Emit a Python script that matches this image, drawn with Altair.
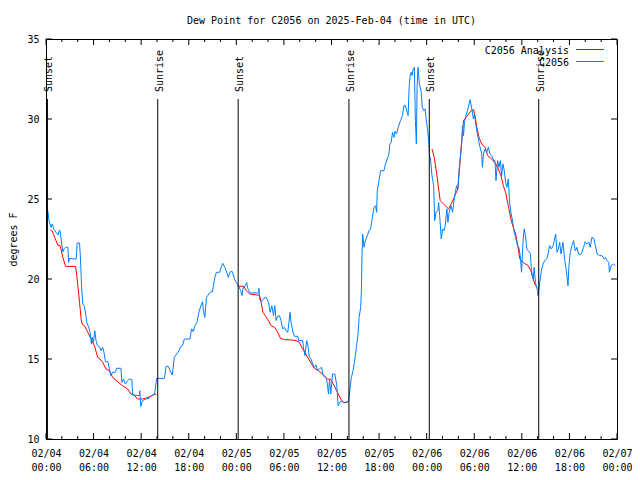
import altair as alt
import pandas as pd

MONO = "DejaVu Sans Mono"
RED = "#FF0000"
BLUE = "#0080FF"

# hours since 2025-02-04 00:00 UTC, observed dew point (F) for C2056
obs_hours = [0.13, 0.25, 0.38, 0.63, 0.79, 1.00, 1.29, 1.51, 1.72, 1.84, 2.01, 2.13, 2.30, 2.47, 2.76, 2.85, 2.97,
             3.60, 3.80, 3.93, 4.23, 4.35, 4.48, 4.64, 4.80, 4.98, 5.14, 5.39, 5.56, 5.73, 5.81, 5.98, 6.15, 6.31,
             6.49, 6.81, 6.94, 7.15, 7.31, 7.49, 7.81, 7.99, 8.19, 8.40, 8.74, 8.91, 9.45, 9.57, 9.78, 10.00, 10.29,
             10.50, 10.83, 10.91, 11.75, 11.83, 11.95, 12.17, 12.58, 13.01, 13.33, 13.67, 13.84, 13.96, 14.93, 15.14,
             15.43, 15.64, 15.93, 16.18, 16.47, 16.77, 16.97, 17.22, 17.44, 18.15, 18.35, 18.57, 18.78, 19.03, 19.28,
             19.53, 19.73, 19.86, 20.03, 20.23, 20.53, 20.79, 20.99, 21.11, 21.29, 21.49, 21.91, 22.12, 22.29, 22.54,
             22.79, 22.99, 23.24, 23.50, 23.80, 24.00, 24.30, 24.55, 24.71, 24.87, 25.13, 25.30, 25.46, 25.72, 26.81,
             26.85, 26.93, 27.13, 27.47, 27.76, 28.06, 28.26, 28.48, 28.69, 28.85, 29.01, 29.23, 29.44, 29.64, 29.85,
             30.07, 30.27, 30.48, 30.61, 30.77, 30.90, 31.15, 31.32, 31.74, 31.86, 32.36, 32.49, 32.65, 32.87, 33.03,
             33.21, 33.41, 33.62, 33.83, 34.03, 34.25, 34.46, 34.75, 34.96, 35.16, 35.37, 35.50, 35.62, 35.75, 35.91,
             36.13, 36.42, 36.67, 36.84, 37.09, 37.38, 37.59, 37.92, 38.10, 38.22, 38.35, 38.51, 38.72, 38.92, 39.14,
             39.35, 39.48, 39.68, 39.77, 39.85, 39.93, 40.10, 40.27, 40.52, 40.73, 40.93, 41.15, 41.36, 41.56, 41.69,
             41.77, 41.99, 42.19, 42.61, 42.81, 43.03, 43.24, 43.36, 43.53, 43.69, 43.87, 43.99, 44.19, 44.41, 44.70,
             44.95, 45.12, 45.32, 45.54, 45.66, 45.79, 45.91, 46.04, 46.16, 46.29, 46.45, 46.58, 46.70, 46.79, 46.91,
             47.08, 47.29, 47.45, 47.63, 47.79, 47.96, 48.13, 48.26, 48.38, 48.46, 48.67, 48.88, 49.01, 49.17, 49.42,
             49.51, 49.64, 49.84, 50.01, 50.18, 50.34, 50.55, 50.68, 50.84, 51.05, 51.27, 51.47, 51.59, 51.77, 51.93,
             52.10, 52.27, 52.43, 52.52, 52.65, 52.77, 52.94, 53.15, 53.35, 53.48, 53.69, 53.90, 54.03, 54.19, 54.35,
             54.60, 54.78, 54.94, 55.03, 55.16, 55.36, 55.57, 55.78, 55.98, 56.20, 56.45, 56.61, 56.74, 56.95, 57.11,
             57.29, 57.45, 57.62, 57.79, 57.95, 58.12, 58.29, 58.46, 58.62, 58.79, 59.04, 59.21, 59.46, 59.62, 59.80,
             59.96, 60.17, 60.30, 60.46, 60.63, 60.80, 61.08, 61.21, 61.43, 61.55, 61.72, 61.97, 62.05, 62.26, 62.47,
             62.68, 62.88, 63.18, 63.35, 63.51, 63.72, 63.94, 64.14, 64.26, 64.44, 64.60, 64.77, 64.94, 65.19, 65.39,
             65.61, 65.73, 65.82, 65.94, 66.11, 66.32, 66.52, 66.74, 66.95, 67.15, 67.36, 67.58, 67.78, 67.99, 68.20,
             68.45, 68.62, 68.83, 69.08, 69.28, 69.49, 69.78, 70.12, 70.34, 70.53, 70.75, 70.96, 71.04, 71.25, 71.54,
             71.79]
obs_values = [24.48, 24.17, 23.65, 23.23, 23.44, 23.10, 22.90, 22.75, 23.06, 22.80, 22.08, 21.70, 21.90, 21.98, 21.98,
              21.04, 21.29, 21.25, 21.25, 22.25, 22.25, 21.25, 19.58, 18.44, 18.33, 17.92, 17.29, 16.98, 16.67, 15.94,
              16.35, 16.04, 16.77, 16.15, 15.83, 15.73, 15.52, 15.73, 15.42, 14.83, 14.83, 14.38, 13.96, 14.17, 14.17,
              14.42, 14.42, 13.54, 13.75, 13.44, 13.65, 13.75, 13.71, 12.75, 12.71, 13.02, 12.04, 12.40, 12.50, 12.54,
              12.71, 12.77, 13.33, 13.79, 13.79, 14.54, 14.54, 14.27, 14.00, 15.10, 15.31, 15.52, 15.77, 15.83, 16.25,
              16.25, 16.88, 16.71, 17.08, 17.29, 17.92, 18.33, 18.58, 18.02, 17.60, 18.85, 19.06, 19.21, 19.21, 19.58,
              20.10, 20.42, 20.42, 20.79, 20.98, 20.73, 20.42, 20.10, 20.46, 20.46, 19.95, 19.79, 19.54, 19.27, 18.96,
              19.48, 19.58, 19.79, 19.38, 19.13, 19.13, 19.42, 18.75, 18.58, 18.79, 18.85, 18.54, 17.92, 18.33, 17.71,
              18.33, 17.40, 17.67, 17.71, 17.40, 16.88, 16.98, 16.77, 16.67, 17.19, 17.92, 17.29, 16.67, 16.42, 16.42,
              16.15, 16.15, 15.63, 15.21, 16.15, 15.83, 15.10, 15.00, 14.69, 14.48, 14.63, 14.27, 14.38, 14.48, 13.96,
              13.85, 13.75, 13.33, 12.81, 13.75, 12.81, 14.06, 14.06, 13.33, 12.08, 12.33, 12.33, 12.25, 12.33, 12.33,
              12.60, 13.23, 13.85, 14.27, 14.90, 15.73, 16.56, 17.60, 18.23, 19.27, 21.56, 22.81, 21.98, 22.40, 22.71,
              23.02, 23.13, 23.85, 24.48, 24.58, 24.17, 25.52, 26.15, 26.77, 26.77, 27.19, 27.50, 27.81, 28.44, 28.54,
              29.17, 28.85, 29.23, 29.06, 29.48, 29.90, 30.21, 30.83, 30.83, 30.42, 30.21, 31.98, 32.71, 32.92, 32.71,
              33.13, 33.23, 29.90, 28.44, 31.98, 33.23, 32.19, 31.77, 30.73, 30.52, 30.63, 29.90, 29.27, 28.65, 27.60,
              27.60, 26.46, 25.83, 23.65, 24.17, 24.27, 24.79, 23.96, 22.50, 23.13, 23.02, 23.33, 24.38, 23.54, 24.17,
              24.58, 24.17, 25.00, 25.31, 25.83, 25.63, 26.88, 27.71, 28.54, 29.58, 28.96, 29.79, 30.21, 30.52, 30.94,
              31.21, 30.63, 30.00, 30.31, 29.69, 29.17, 28.54, 28.13, 27.81, 26.98, 27.81, 28.13, 27.92, 28.23, 27.81,
              27.71, 27.40, 27.40, 26.15, 27.40, 26.98, 27.40, 26.46, 27.19, 26.77, 26.04, 25.73, 26.25, 24.79, 24.17,
              23.75, 22.92, 22.60, 22.08, 21.98, 21.46, 20.42, 22.50, 23.13, 22.71, 21.88, 21.77, 21.60, 20.50, 20.00,
              20.73, 19.79, 19.27, 18.96, 19.79, 20.52, 20.94, 21.15, 21.29, 21.67, 22.08, 21.88, 22.08, 22.50, 22.81,
              21.67, 21.88, 22.29, 21.56, 22.29, 21.25, 20.52, 20.00, 19.58, 20.83, 21.67, 22.08, 22.40, 21.77, 21.98,
              21.56, 21.50, 21.67, 21.98, 22.33, 22.19, 22.29, 21.98, 22.60, 22.54, 22.08, 21.56, 21.46, 21.46, 21.25,
              21.35, 21.15, 21.04, 20.42, 20.83, 20.94, 20.83]

# analysis series (three night-time segments)
ana1_hours = [0.54, 0.79, 1.09, 1.51, 1.79, 2.13, 2.47, 3.73, 3.93, 4.23, 4.43, 4.55, 4.85, 5.27, 5.68, 6.11, 6.52,
              6.81, 7.15, 7.56, 7.99, 8.40, 9.03, 9.66, 10.29, 10.70, 11.13, 11.54, 12.17, 12.58, 13.21, 13.64, 13.92]
ana1_values = [23.06, 23.00, 22.60, 22.10, 22.08, 21.35, 20.79, 20.79, 20.00, 18.54, 17.50, 17.19, 17.08, 16.67, 16.25,
               15.83, 15.10, 15.00, 14.79, 14.38, 14.27, 13.85, 13.58, 13.33, 13.13, 12.81, 12.75, 12.50, 12.50, 12.54,
               12.67, 12.81, 12.79]
ana2_hours = [24.21, 24.96, 25.25, 25.68, 26.72, 26.93, 27.13, 27.35, 27.64, 27.97, 28.39, 28.81, 29.23, 29.57, 30.07,
              30.90, 31.52, 31.95, 32.24, 32.65, 32.99, 33.49, 33.83, 34.33, 34.87, 35.50, 35.91, 36.34, 36.75, 37.17,
              37.51, 37.92, 38.10]
ana2_values = [19.55, 19.54, 19.27, 19.06, 19.00, 18.96, 18.54, 17.92, 17.71, 17.46, 17.08, 16.98, 16.67, 16.29, 16.21,
               16.19, 16.15, 16.04, 15.73, 15.42, 15.10, 14.69, 14.42, 14.27, 14.06, 13.75, 13.73, 13.33, 12.92, 12.50,
               12.29, 12.29, 12.35]
ana3_hours = [48.67, 48.96, 49.30, 49.51, 49.71, 49.92, 50.34, 50.76, 51.09, 51.39, 51.59, 51.93, 52.10, 52.35, 52.65,
              52.94, 53.28, 53.61, 53.90, 54.10, 54.32, 54.60, 54.94, 55.36, 55.70, 56.20, 56.70, 57.04, 57.37, 57.67,
              57.95, 58.29, 58.62, 58.92, 59.21, 59.46, 59.75, 60.17, 60.80, 61.13, 61.43, 61.72, 61.97]
ana3_values = [28.13, 27.60, 26.46, 25.63, 24.90, 24.79, 24.58, 24.38, 24.69, 25.00, 25.25, 25.63, 26.67, 28.23, 29.90,
               30.10, 30.31, 30.52, 30.58, 30.21, 29.48, 28.85, 28.44, 28.23, 27.71, 27.50, 27.19, 26.88, 26.46, 25.83,
               25.42, 24.58, 23.75, 23.23, 22.81, 22.19, 21.25, 21.04, 20.83, 20.52, 20.00, 19.58, 19.48]

sun_hours = [0.18, 14.09, 24.23, 38.20, 48.33, 62.13]
sun_labels = ["Sunset", "Sunrise", "Sunset", "Sunrise", "Sunset", "Sunrise"]

x_major = [0, 6, 12, 18, 24, 30, 36, 42, 48, 54, 60, 66, 72]
x_minor = [2, 4, 8, 10, 14, 16, 20, 22, 26, 28, 32, 34, 38, 40, 44, 46, 50, 52, 56, 58, 62, 64, 68, 70]
y_major = [10, 15, 20, 25, 30, 35]

legend_labels = ["C2056 Analysis", "C2056"]
legend_colors = [RED, BLUE]

W, H = 571, 400

obs_df = pd.DataFrame({"h": obs_hours, "v": obs_values})
ana_df = pd.concat([
    pd.DataFrame({"h": ana1_hours, "v": ana1_values, "seg": "a"}),
    pd.DataFrame({"h": ana2_hours, "v": ana2_values, "seg": "b"}),
    pd.DataFrame({"h": ana3_hours, "v": ana3_values, "seg": "c"}),
])
sun_df = pd.DataFrame({"h": sun_hours, "label": sun_labels})
xmaj_df = pd.DataFrame({"h": x_major})
xmin_df = pd.DataFrame({"h": x_minor})
ymaj_df = pd.DataFrame({"v": y_major})

xs = alt.Scale(domain=[0, 72], nice=False, zero=False)
ys = alt.Scale(domain=[10, 35], nice=False, zero=False)

x_axis = alt.Axis(
    values=x_major,
    labelExpr="['02/0' + (4 + floor(datum.value / 24)), (datum.value % 24 < 10 ? '0' : '') + (datum.value % 24) + ':00']",
    labelFont=MONO, labelFontSize=10, labelColor="black", labelPadding=9, labelLineHeight=14,
    labelFlush=False, labelOverlap=False, labelBaseline="top", labelAngle=0,
    ticks=False, tickSize=0, domain=False, grid=False,
)
y_axis = alt.Axis(
    values=y_major, labelFont=MONO, labelFontSize=10, labelColor="black", labelPadding=7,
    labelFlush=False, labelOverlap=False,
    ticks=False, tickSize=0, domain=False, grid=False,
    titleFont=MONO, titleFontSize=10, titleFontWeight="normal", titleColor="black",
    titleAngle=270, titleX=-33, titleY=200, titleAlign="center", titleBaseline="middle",
)

X = alt.X("h:Q", scale=xs, axis=x_axis, title="")
Y = alt.Y("v:Q", scale=ys, axis=y_axis, title="degrees F")

ana_line = alt.Chart(ana_df).mark_line(color=RED, strokeWidth=1).encode(x=X, y=Y, detail="seg:N")
obs_line = alt.Chart(obs_df).mark_line(color=BLUE, strokeWidth=1).encode(x=X, y=Y)

sun_rules = alt.Chart(sun_df).mark_rule(color="black", strokeWidth=1).encode(
    x=X, y=alt.value(60), y2=alt.value(H))
sun_text = alt.Chart(sun_df).mark_text(
    angle=270, align="left", baseline="middle", dy=2, font=MONO, fontSize=10, color="black"
).encode(x=X, y=alt.value(53), text="label:N")

ticks_bottom_major = alt.Chart(xmaj_df).mark_rule(color="black").encode(x=X, y=alt.value(H), y2=alt.value(H - 6))
ticks_top_major = alt.Chart(xmaj_df).mark_rule(color="black").encode(x=X, y=alt.value(0), y2=alt.value(6))
ticks_bottom_minor = alt.Chart(xmin_df).mark_rule(color="black").encode(x=X, y=alt.value(H), y2=alt.value(H - 3))
ticks_top_minor = alt.Chart(xmin_df).mark_rule(color="black").encode(x=X, y=alt.value(0), y2=alt.value(3))
ticks_left = alt.Chart(ymaj_df).mark_rule(color="black").encode(y=Y, x=alt.value(0), x2=alt.value(6))
ticks_right = alt.Chart(ymaj_df).mark_rule(color="black").encode(y=Y, x=alt.value(W), x2=alt.value(W - 6))

legend_layers = []
for i, (lab, col) in enumerate(zip(legend_labels, legend_colors)):
    ldf = pd.DataFrame({"label": [lab], "color": [col]})
    legend_layers.append(
        alt.Chart(ldf).mark_text(align="right", baseline="middle", font=MONO, fontSize=10, color="black")
        .encode(text="label:N", x=alt.value(W - 48), y=alt.value(12 + 12 * i))
    )
    legend_layers.append(
        alt.Chart(ldf).mark_rule(strokeWidth=1)
        .encode(color=alt.Color("color:N", scale=None),
                x=alt.value(W - 41), x2=alt.value(W - 13), y=alt.value(10.5 + 12 * i))
    )

chart = alt.layer(
    ana_line, obs_line, sun_rules, sun_text,
    ticks_bottom_major, ticks_top_major, ticks_bottom_minor, ticks_top_minor, ticks_left, ticks_right,
    *legend_layers,
).properties(
    width=W, height=H,
    autosize="none",
    padding={"left": 38, "top": 31, "right": 15, "bottom": 33},
    background="white",
    title=alt.TitleParams(
        "Dew Point for C2056 on 2025-Feb-04 (time in UTC)",
        font=MONO, fontSize=10, fontWeight="normal", color="black", anchor="middle", offset=8,
    ),
).configure_view(stroke="black", strokeWidth=1)

chart.save("out.html", embed_options={"renderer": "svg", "actions": False})
